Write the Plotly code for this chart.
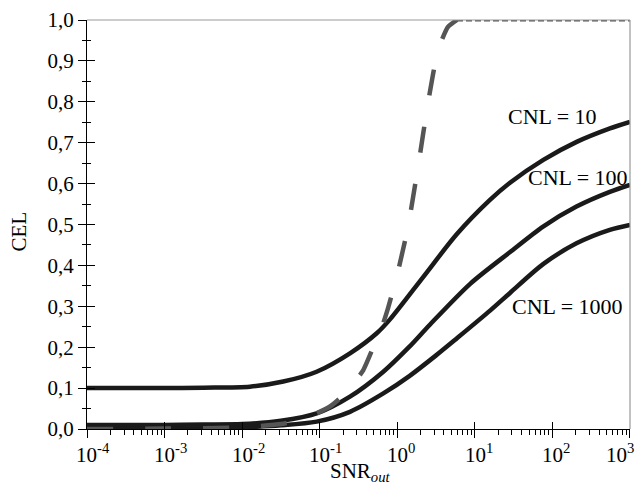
import math
import plotly.graph_objects as go

# ---- data (log10 SNR positions, CEL values) ----
cnl10_logsnr = [-4, -3, -2.5, -1.9, -1.47, -1.04, -0.61, -0.265, -0.094, 0.336, 0.766, 1.195, 1.453, 1.883, 2.313, 2.742, 3]
cnl10_cel    = [0.100, 0.100, 0.101, 0.1035, 0.116, 0.140, 0.185, 0.234, 0.268, 0.372, 0.476, 0.560, 0.602, 0.658, 0.702, 0.735, 0.751]

cnl100_logsnr = [-4, -3, -2.5, -2, -1.5, -1.04, -0.61, -0.18, 0.15, 0.42, 0.94, 1.45, 1.88, 2.31, 2.74, 3]
cnl100_cel    = [0.010, 0.010, 0.011, 0.012, 0.020, 0.038, 0.079, 0.140, 0.200, 0.255, 0.355, 0.432, 0.495, 0.544, 0.580, 0.597]

cnl1000_logsnr = [-4, -3, -2.5, -2, -1.5, -1.04, -0.61, -0.18, 0.16, 0.5, 0.77, 1.2, 1.45, 1.88, 2.31, 2.74, 3]
cnl1000_cel    = [0.001, 0.001, 0.002, 0.004, 0.009, 0.018, 0.042, 0.087, 0.130, 0.180, 0.222, 0.290, 0.332, 0.403, 0.454, 0.487, 0.499]

dashed_logsnr = [-4, -3, -2, -1.5, -1.2, -0.867, -0.717, -0.567, -0.438, -0.287, -0.197, -0.12, -0.004, 0.138, 0.267, 0.396, 0.525, 0.654, 0.77]
dashed_cel    = [0.0, 0.001, 0.004, 0.012, 0.025, 0.055, 0.079, 0.111, 0.144, 0.210, 0.250, 0.295, 0.375, 0.494, 0.640, 0.797, 0.927, 0.983, 1.0]

flat_logsnr = [0.77, 1, 2, 3]
flat_cel    = [1.0, 1.0, 1.0, 1.0]

labels = ["CNL = 10", "CNL = 100", "CNL = 1000"]
label_pos_log = [2.007, 2.33, 2.20]
label_pos_cel = [0.765, 0.616, 0.300]

x_tickvals = [1e-4, 1e-3, 1e-2, 1e-1, 1e0, 1e1, 1e2, 1e3]
x_ticktext = ["10<sup>-4</sup>", "10<sup>-3</sup>", "10<sup>-2</sup>", "10<sup>-1</sup>",
              "10<sup>0</sup>", "10<sup>1</sup>", "10<sup>2</sup>", "10<sup>3</sup>"]
y_tickvals = [0.0, 0.1, 0.2, 0.3, 0.4, 0.5, 0.6, 0.7, 0.8, 0.9, 1.0]

# style: horizontal pixel nudges of the x tick labels (base "10" centred on tick; last kept inside)
x_label_nudge = [6, 6, 6, 6, 4, 4, 4, -10]

FONT = "Liberation Serif"
solid_color = "#1a1a1a"
dash_color = "#555555"

def tolin(l):
    return [10 ** v for v in l]

fig = go.Figure()
for lx, ly in [(cnl10_logsnr, cnl10_cel), (cnl100_logsnr, cnl100_cel), (cnl1000_logsnr, cnl1000_cel)]:
    fig.add_trace(go.Scatter(x=tolin(lx), y=ly, mode="lines",
                             line=dict(color=solid_color, width=4.5, shape="spline", smoothing=0.8),
                             showlegend=False, hoverinfo="skip"))
fig.add_trace(go.Scatter(x=tolin(dashed_logsnr), y=dashed_cel, mode="lines",
                         line=dict(color=dash_color, width=4.5, dash="26px,32px", shape="spline", smoothing=0.5),
                         showlegend=False, hoverinfo="skip"))
fig.add_trace(go.Scatter(x=tolin(flat_logsnr), y=flat_cel, mode="lines",
                         line=dict(color=dash_color, width=3, dash="6px,3px"),
                         showlegend=False, hoverinfo="skip"))
# helper trace so the overlay axes (inside ticks) are drawn
fig.add_trace(go.Scatter(x=[None], y=[None], xaxis="x2", yaxis="y2", showlegend=False, hoverinfo="skip"))

for t, lx, ly in zip(labels, label_pos_log, label_pos_cel):
    fig.add_annotation(x=lx, y=ly, xref="x", yref="y", text=t, showarrow=False,
                       font=dict(family=FONT, size=22, color="#000"))

# x tick labels as annotations (positioned by the axis through xref="x")
for tv, tt, nud in zip(x_tickvals, x_ticktext, x_label_nudge):
    fig.add_annotation(x=math.log10(tv), y=0, xref="x", yref="paper",
                       xanchor="center", yanchor="top", yshift=-9, xshift=nud,
                       text=tt, showarrow=False, font=dict(family=FONT, size=21, color="#000"))

# axis titles as annotations for exact placement
fig.add_annotation(x=0.503, y=-0.068, xref="paper", yref="paper", xanchor="center", yanchor="top",
                   text="SNR<sub><i>out</i></sub>", showarrow=False,
                   font=dict(family=FONT, size=21, color="#000"))
fig.add_annotation(x=-0.126, y=0.482, xref="paper", yref="paper", xanchor="center", yanchor="middle",
                   text="CEL", textangle=-90, showarrow=False,
                   font=dict(family=FONT, size=21, color="#000"))

xr = [-4.0003, 3.0003]
yr = [0, 1]
# page body has an 8px margin, so the figure is sized/offset to fit inside the window
fig.update_layout(
    width=636, height=479,
    margin=dict(l=79, r=14, t=12, b=58),
    paper_bgcolor="white", plot_bgcolor="white",
    font=dict(family=FONT, size=21, color="#000"),
    separators=",.",
    xaxis=dict(type="log", range=xr, tickvals=x_tickvals, showticklabels=False, automargin=False,
               ticks="outside", ticklen=8, tickwidth=1.2, tickcolor="#000",
               showline=True, linecolor="#000", linewidth=1.2, showgrid=False, zeroline=False,
               minor=dict(ticks="outside", ticklen=5, tickwidth=1, tickcolor="#000", dtick="D1", showgrid=False)),
    yaxis=dict(range=yr, tickvals=y_tickvals, tickformat=".1f", automargin=False,
               ticklabeloverflow="allow",
               ticks="outside", ticklen=8, tickwidth=1.2, tickcolor="#000",
               showline=True, linecolor="#000", linewidth=1.2, showgrid=False, zeroline=False,
               minor=dict(ticks="outside", ticklen=4, tickwidth=1, tickcolor="#000", dtick=0.05, showgrid=False),
               tickfont=dict(size=21)),
    xaxis2=dict(type="log", range=xr, overlaying="x", anchor="y", tickvals=x_tickvals, automargin=False,
                showticklabels=False, ticks="inside", ticklen=7, tickwidth=1.2, tickcolor="#000",
                showline=False, showgrid=False, zeroline=False),
    yaxis2=dict(range=yr, overlaying="y", anchor="x", tickvals=y_tickvals, automargin=False,
                showticklabels=False, ticks="inside", ticklen=8, tickwidth=1.2, tickcolor="#000",
                minor=dict(ticks="inside", ticklen=4, tickwidth=1, tickcolor="#000", dtick=0.05, showgrid=False),
                showline=False, showgrid=False, zeroline=False),
    shapes=[
        dict(type="line", xref="paper", yref="paper", x0=0, x1=1, y0=1, y1=1, line=dict(color="#999", width=1.2)),
        dict(type="line", xref="paper", yref="paper", x0=1, x1=1, y0=0, y1=1, line=dict(color="#999", width=1.2)),
    ],
)

fig.write_html("out.html")
